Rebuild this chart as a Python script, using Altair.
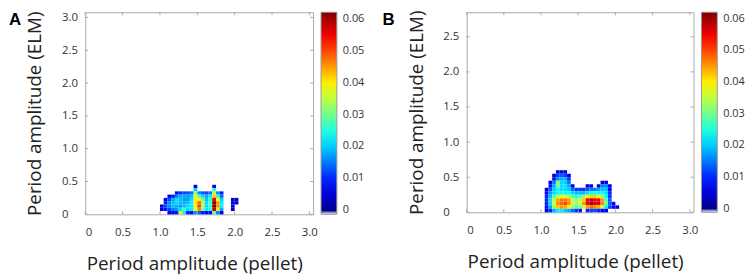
import altair as alt
import pandas as pd

# ---- data (values x 1000), grid cells 0.05 wide, first column starts at x = 1.00 ----
STEP = 0.05
X_START = 1.0

# Panel A: rows from top (y 0.40-0.45) to bottom (y 0.00-0.05)
A_VALUES = [
    [0, 0, 0, 0, 0, 0, 0, 0, 0, 6, 0, 0, 0, 0, 6, 0, 0, 0, 0, 0, 0],
    [0, 0, 0, 0, 0, 0, 0, 0, 0, 20, 0, 0, 0, 0, 25, 0, 0, 0, 0, 0, 0],
    [0, 0, 0, 0, 7, 10, 12, 12, 14, 32, 16, 12, 12, 14, 35, 16, 9, 0, 0, 0, 0],
    [0, 0, 6, 9, 15, 18, 18, 17, 19, 38, 27, 21, 18, 22, 42, 26, 14, 0, 0, 0, 0],
    [0, 7, 12, 18, 21, 19, 17, 17, 21, 40, 40, 30, 19, 26, 55, 38, 20, 0, 0, 5, 4],
    [0, 9, 16, 19, 21, 19, 18, 19, 22, 40, 48, 33, 21, 27, 62, 45, 22, 0, 0, 5, 4],
    [6, 12, 16, 19, 18, 17, 19, 21, 22, 40, 50, 33, 21, 27, 62, 45, 22, 0, 0, 5, 0],
    [5, 9, 12, 15, 17, 21, 27, 21, 22, 38, 46, 31, 22, 26, 58, 40, 18, 0, 0, 5, 0],
    [0, 0, 6, 7, 9, 38, 22, 9, 7, 16, 13, 9, 7, 7, 30, 16, 7, 0, 0, 0, 0],
]

# Panel B: rows from top (y 0.55-0.60) to bottom (y 0.00-0.05)
B_VALUES = [
    [0, 0, 0, 0, 6, 6, 5, 0, 0, 0, 0, 0, 0, 0, 0, 0, 0, 0, 0, 0, 0],
    [0, 0, 0, 5, 11, 13, 11, 6, 0, 0, 0, 0, 0, 0, 0, 0, 0, 0, 0, 0, 0],
    [0, 0, 0, 8, 16, 18, 18, 11, 0, 0, 0, 0, 0, 0, 0, 0, 0, 0, 0, 0, 0],
    [0, 0, 6, 15, 32, 21, 20, 15, 0, 0, 0, 0, 0, 0, 0, 0, 6, 6, 0, 0, 0],
    [0, 0, 8, 18, 30, 21, 21, 18, 6, 0, 0, 0, 5, 6, 0, 6, 15, 15, 6, 0, 0],
    [0, 6, 13, 20, 23, 21, 21, 20, 14, 11, 11, 11, 13, 15, 15, 17, 19, 19, 8, 0, 0],
    [0, 8, 17, 21, 23, 23, 23, 23, 21, 19, 19, 19, 21, 23, 23, 23, 23, 21, 10, 0, 0],
    [0, 10, 19, 28, 35, 38, 38, 35, 28, 25, 28, 32, 40, 42, 42, 40, 32, 23, 11, 0, 0],
    [0, 10, 21, 35, 44, 47, 47, 45, 35, 32, 35, 42, 55, 58, 55, 55, 45, 28, 13, 0, 0],
    [0, 10, 21, 38, 46, 48, 50, 46, 36, 32, 36, 45, 56, 60, 56, 56, 46, 30, 14, 8, 0],
    [0, 8, 18, 32, 42, 45, 44, 40, 32, 28, 30, 35, 45, 48, 46, 44, 35, 22, 12, 8, 5],
    [0, 5, 10, 18, 22, 22, 20, 18, 14, 10, 8, 0, 10, 12, 12, 10, 8, 6, 0, 0, 0],
]

X_TICKS = [0, 0.5, 1.0, 1.5, 2.0, 2.5, 3.0]
Y_TICKS_A = [0, 0.5, 1.0, 1.5, 2.0, 2.5, 3.0]
Y_TICKS_B = [0, 0.5, 1.0, 1.5, 2.0, 2.5]
CBAR_TICKS = [0, 0.01, 0.02, 0.03, 0.04, 0.05, 0.06]

JET_DOMAIN = [-0.0012, 0, 0.0077, 0.023, 0.039, 0.054, 0.062]
JET_RANGE = ["#ffffff", "#00008f", "#0000ff", "#00ffff", "#ffff00", "#ff0000", "#800000"]

FONT = "Open Sans"
FRAME = "#a8a8a8"


def cells(rows):
    recs = []
    n = len(rows)
    for i, row in enumerate(rows):
        r = n - 1 - i
        for c, v in enumerate(row):
            if v > 0:
                recs.append(dict(x=X_START + c * STEP, x2=X_START + (c + 1) * STEP,
                                 y=r * STEP, y2=(r + 1) * STEP, v=v / 1000.0))
    return pd.DataFrame(recs)


LABEL_EXPR = "datum.value == 0 ? '0' : format(datum.value, '.1f')"


def panel(rows, letter, letter_x, ydom, yticks, width, height, legend_x):
    df = cells(rows)
    xs = alt.Scale(domain=[0, 3.05], nice=False, zero=False)
    ys = alt.Scale(domain=ydom, nice=False, zero=False)
    x_axis = alt.Axis(values=X_TICKS, labelExpr=LABEL_EXPR, ticks=False, tickSize=0,
                      domain=False, grid=False, labelFont=FONT, labelFontSize=11.5,
                      labelColor="#333333", labelPadding=12, labelOverlap=False,
                      title="Period amplitude (pellet)", titleFont=FONT, titleFontSize=19,
                      titleFontWeight="normal", titleColor="#222222", titlePadding=17,
                      titleX=width / 2 - 5)
    y_axis = alt.Axis(values=yticks, labelExpr=LABEL_EXPR, ticks=False, tickSize=0,
                      domain=False, grid=False, labelFont=FONT, labelFontSize=11.5,
                      labelColor="#333333", labelAlign="left", labelPadding=24,
                      labelOverlap=False,
                      title="Period amplitude (ELM)", titleFont=FONT, titleFontSize=19,
                      titleFontWeight="normal", titleColor="#222222", titlePadding=17)
    legend = alt.Legend(title="", orient="none", legendX=legend_x, legendY=0,
                        direction="vertical", gradientLength=height, gradientThickness=16,
                        gradientStrokeColor="#999999", gradientStrokeWidth=1,
                        values=CBAR_TICKS, format="~g", labelFont=FONT, labelFontSize=11,
                        labelColor="#333333", labelOffset=6)
    heat = alt.Chart(df).mark_rect().encode(
        x=alt.X("x:Q", scale=xs, axis=x_axis),
        x2="x2:Q",
        y=alt.Y("y:Q", scale=ys, axis=y_axis),
        y2="y2:Q",
        color=alt.Color("v:Q", scale=alt.Scale(domain=JET_DOMAIN, range=JET_RANGE,
                                               interpolate="rgb"), legend=legend),
    )
    xt = pd.DataFrame({"x": X_TICKS})
    yt = pd.DataFrame({"y": yticks})
    tick_b = alt.Chart(xt).mark_rule(color=FRAME, strokeWidth=1).encode(
        x=alt.X("x:Q", scale=xs, axis=x_axis), y=alt.value(height), y2=alt.value(height - 3))
    tick_t = alt.Chart(xt).mark_rule(color=FRAME, strokeWidth=1).encode(
        x=alt.X("x:Q", scale=xs, axis=x_axis), y=alt.value(0), y2=alt.value(3))
    tick_l = alt.Chart(yt).mark_rule(color=FRAME, strokeWidth=1).encode(
        y=alt.Y("y:Q", scale=ys, axis=y_axis), x=alt.value(0), x2=alt.value(3))
    tick_r = alt.Chart(yt).mark_rule(color=FRAME, strokeWidth=1).encode(
        y=alt.Y("y:Q", scale=ys, axis=y_axis), x=alt.value(width), x2=alt.value(width - 3))
    txt = alt.Chart(pd.DataFrame({"t": [letter]})).mark_text(
        align="left", baseline="middle", font="Liberation Sans", fontSize=17,
        fontWeight="bold", color="#000000"
    ).encode(x=alt.value(letter_x), y=alt.value(8), text="t:N")
    return alt.layer(heat, tick_b, tick_t, tick_l, tick_r, txt).properties(
        width=width, height=height)


chart_a = panel(A_VALUES, "A", -77, [0, 3.08], Y_TICKS_A, 230, 204, 238)
chart_b = panel(B_VALUES, "B", -85, [0, 2.85], Y_TICKS_B, 229, 202, 237)

chart = alt.hconcat(chart_a, chart_b, spacing=16).resolve_scale(
    color="independent", x="independent", y="independent"
).configure_view(stroke=FRAME, strokeWidth=1).properties(padding=0)

chart.save("out.html", embed_options={"renderer": "svg", "actions": False})
